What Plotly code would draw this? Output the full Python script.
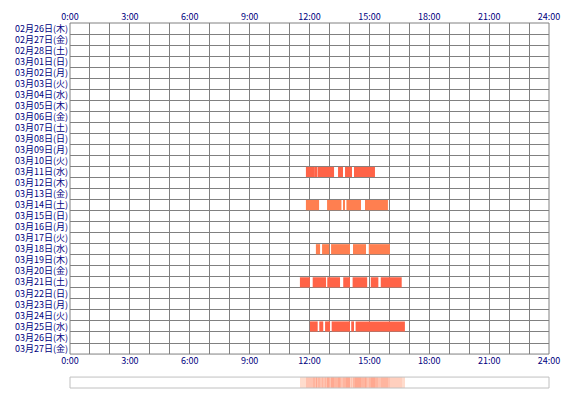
import plotly.graph_objects as go
import numpy as np

days = ["02月26日(木)", "02月27日(金)", "02月28日(土)", "03月01日(日)", "03月02日(月)",
        "03月03日(火)", "03月04日(水)", "03月05日(木)", "03月06日(金)", "03月07日(土)",
        "03月08日(日)", "03月09日(月)", "03月10日(火)", "03月11日(水)", "03月12日(木)",
        "03月13日(金)", "03月14日(土)", "03月15日(日)", "03月16日(月)", "03月17日(火)",
        "03月18日(水)", "03月19日(木)", "03月20日(金)", "03月21日(土)", "03月22日(日)",
        "03月23日(月)", "03月24日(火)", "03月25日(水)", "03月26日(木)", "03月27日(金)"]

# sessions: (start hour, end hour)
sess_0311 = [(11.82, 12.27), (12.32, 12.40), (12.42, 13.23), (13.43, 13.68), (13.78, 14.13), (14.23, 15.28)]
sess_0314 = [(11.82, 12.48), (12.88, 13.60), (13.69, 13.78), (13.85, 14.58), (14.78, 15.93)]
sess_0318 = [(12.32, 12.53), (12.63, 12.99), (13.08, 14.03), (14.18, 14.83), (14.97, 16.03)]
sess_0321 = [(11.52, 12.02), (12.16, 12.83), (12.89, 13.53), (13.69, 14.03), (14.16, 14.89),
             (15.07, 15.45), (15.57, 16.62)]
sess_0325 = [(12.02, 12.41), (12.49, 12.69), (12.78, 13.03), (13.11, 14.03), (14.09, 14.23), (14.31, 16.78)]

sessions = [("03月11日(水)", sess_0311, "#ff6347"), ("03月14日(土)", sess_0314, "#ff7f50"),
            ("03月18日(水)", sess_0318, "#ff7f50"), ("03月21日(土)", sess_0321, "#ff6347"),
            ("03月25日(水)", sess_0325, "#ff6347")]

fig = go.Figure()
for day, segs, col in sessions:
    fig.add_trace(go.Bar(orientation="h", y=[days.index(day)] * len(segs),
                         base=[s for s, e in segs], x=[e - s for s, e in segs],
                         width=0.92, marker=dict(color=col, line_width=0), showlegend=False))

# frequency strip
bins = np.arange(0, 24, 1 / 30)
counts = np.zeros(len(bins))
for day, segs, col in sessions:
    for s, e in segs:
        counts += (bins + 1 / 60 >= s) & (bins + 1 / 60 < e)
fig.add_trace(go.Heatmap(x=bins + 1 / 60, y=[0], z=[counts], xaxis="x3", yaxis="y2",
                         colorscale=[[0, "rgba(255,255,255,0)"], [0.01, "#ffe8dc"], [1, "#ffa890"]],
                         showscale=False, zmin=0, zmax=5))
fig.add_trace(go.Scatter(x=[0], y=[0], xaxis="x2", yaxis="y", opacity=0,
                         showlegend=False, hoverinfo="skip"))

font = dict(family="Noto Sans CJK JP", size=9, color="#000080")
ticks = list(range(0, 25, 3))
tlab = [f"{h}:00" for h in ticks]
fig.update_layout(
    width=570, height=400, margin=dict(l=62, r=29, t=15, b=20),
    plot_bgcolor="white", paper_bgcolor="white", font=font, barmode="overlay",
    xaxis=dict(range=[0, 24], tickvals=ticks, ticktext=tlab, showgrid=True, gridcolor="#808080",
               minor=dict(dtick=1, showgrid=True, gridcolor="#808080"), zeroline=False,
               anchor="y", ticks="", showline=False, automargin=False),
    xaxis2=dict(range=[0, 24], tickvals=ticks, ticktext=tlab, overlaying="x", side="top",
                showgrid=False, zeroline=False, anchor="y", ticks="", automargin=False,
                ticklabelstandoff=0),
    xaxis3=dict(range=[0, 24], anchor="y2", visible=False, showgrid=False),
    yaxis=dict(domain=[0.093, 1], range=[len(days) - 0.5, -0.5], tickvals=list(range(len(days))),
               ticktext=days, showgrid=False, zeroline=False, ticks="", automargin=False,
               ticklabelstandoff=1,
               minor=dict(tickvals=[i + 0.5 for i in range(-1, len(days))], showgrid=True,
                          gridcolor="#808080")),
    yaxis2=dict(domain=[0, 0.03], anchor="x3", visible=False, range=[-0.5, 0.5]),
)
fig.add_shape(type="rect", xref="paper", yref="paper", x0=0, x1=1, y0=0.093, y1=1,
              line=dict(color="#808080", width=1))
fig.add_shape(type="rect", xref="paper", yref="paper", x0=0, x1=1, y0=0, y1=0.03,
              line=dict(color="#c0c0c0", width=1))
fig.write_html("out.html")
